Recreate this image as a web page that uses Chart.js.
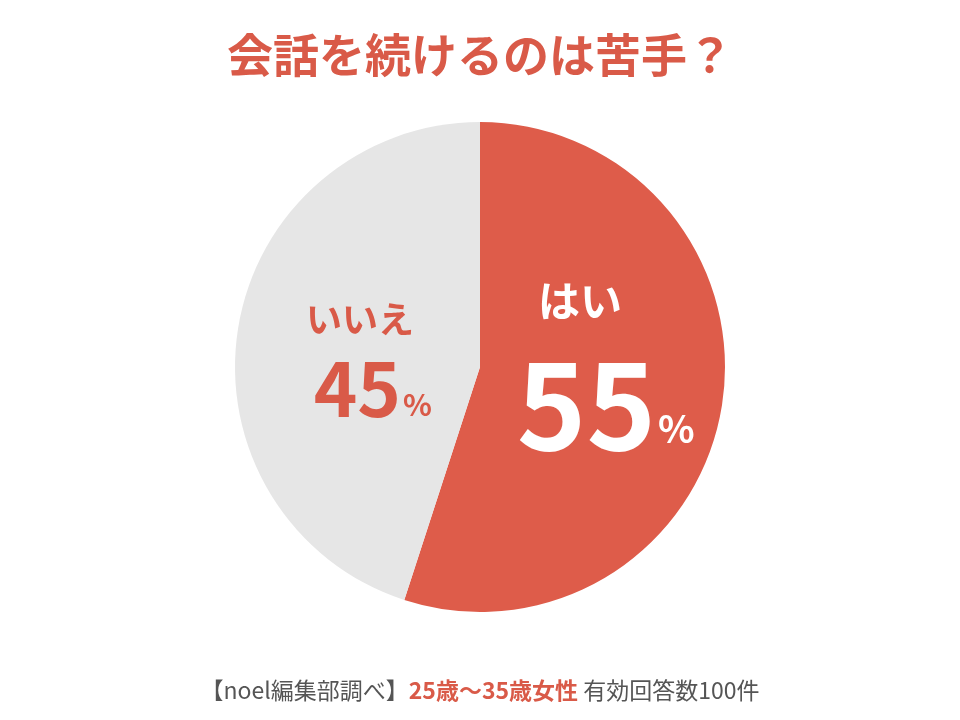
<!DOCTYPE html>
<html lang="ja">
<head>
<meta charset="UTF-8">
<script src="https://cdn.jsdelivr.net/npm/chart.js"></script>
<style>
  html, body { margin: 0; padding: 0; background: #fff; }
  #wrap { width: 960px; height: 720px; position: relative; }
</style>
</head>
<body>
<div id="wrap"><canvas id="pie"></canvas></div>
<script>
const labels = ["はい", "いいえ"];
const values = [55, 45];
const colors = ["#de5c4a", "#e6e6e6"];
const title = "会話を続けるのは苦手？";

const RED = "#d95a48";
const FONT = "'Noto Sans CJK JP', 'Noto Sans', sans-serif";

// labels, title and footer drawn on top of the pie
const textPlugin = {
  id: "texts",
  afterDraw(chart) {
    const ctx = chart.ctx;
    const arcs = chart.getDatasetMeta(0).data;
    const cx = arcs[0].x, cy = arcs[0].y;
    ctx.save();
    ctx.textBaseline = "middle";

    ctx.fillStyle = RED;
    ctx.textAlign = "center";
    ctx.font = "bold 46px " + FONT;
    ctx.fillText(title, 480, 55);

    // はい 55%
    ctx.fillStyle = "#fff";
    ctx.font = "bold 42px " + FONT;
    ctx.fillText(labels[0], cx + 100, cy - 66);
    ctx.font = "bold 118px " + FONT;
    ctx.textAlign = "right";
    ctx.fillText(String(values[0]), cx + 176, cy + 38);
    ctx.textAlign = "left";
    ctx.font = "bold 38px " + FONT;
    ctx.fillText("%", cx + 178, cy + 62);

    // いいえ 45%
    ctx.fillStyle = RED;
    ctx.textAlign = "center";
    ctx.font = "bold 36px " + FONT;
    ctx.fillText(labels[1], cx - 120, cy - 48);
    ctx.font = "bold 74px " + FONT;
    ctx.textAlign = "right";
    ctx.fillText(String(values[1]), cx - 79, cy + 22);
    ctx.textAlign = "left";
    ctx.font = "bold 30px " + FONT;
    ctx.fillText("%", cx - 77, cy + 38);

    // footer
    const parts = [
      ["【noel編集部調べ】", "#555", "23px"],
      ["25歳〜35歳女性", RED, "bold 23px"],
      [" 有効回答数100件", "#555", "23px"]
    ];
    let total = 0;
    parts.forEach(p => { ctx.font = p[2] + " " + FONT; total += ctx.measureText(p[0]).width; });
    let x = 480 - total / 2;
    ctx.textAlign = "left";
    parts.forEach(p => {
      ctx.font = p[2] + " " + FONT;
      ctx.fillStyle = p[1];
      ctx.fillText(p[0], x, 690);
      x += ctx.measureText(p[0]).width;
    });
    ctx.restore();
  }
};

new Chart(document.getElementById("pie"), {
  type: "pie",
  data: {
    labels: labels,
    datasets: [{ data: values, backgroundColor: colors, borderWidth: 0 }]
  },
  options: {
    responsive: true,
    maintainAspectRatio: false,
    animation: false,
    layout: { padding: { top: 122, bottom: 108 } },
    plugins: { legend: { display: false }, tooltip: { enabled: false } }
  },
  plugins: [textPlugin]
});
</script>
</body>
</html>
